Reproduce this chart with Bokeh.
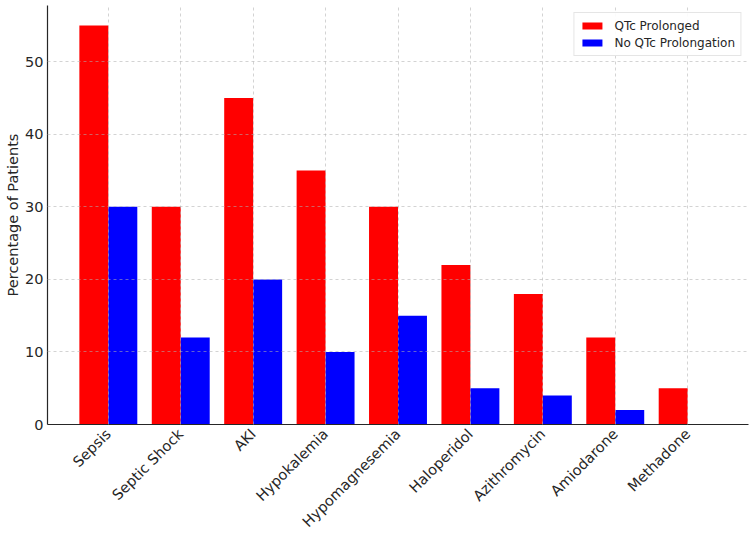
from bokeh.plotting import figure
from bokeh.models import ColumnDataSource, FactorRange, Legend, LegendItem, SingleIntervalTicker
from bokeh.transform import dodge
from bokeh.embed import file_html
from bokeh.resources import INLINE

categories = ["Sepsis", "Septic Shock", "AKI", "Hypokalemia", "Hypomagnesemia",
              "Haloperidol", "Azithromycin", "Amiodarone", "Methadone"]
qtc_prolonged = [55, 30, 45, 35, 30, 22, 18, 12, 5]
no_qtc_prolongation = [30, 12, 20, 10, 15, 5, 4, 2, 0]

src = ColumnDataSource(dict(cat=categories, a=qtc_prolonged, b=no_qtc_prolongation))

FONT = "DejaVu Sans"
TXT = "#262626"

p = figure(width=750, height=539, output_backend="svg", toolbar_location=None,
           x_range=FactorRange(factors=categories, range_padding=0.34,
                               range_padding_units="absolute"),
           y_range=(0, 57.75),
           min_border_left=47, min_border_right=2, min_border_top=5, min_border_bottom=115)

r1 = p.vbar(x=dodge("cat", -0.2, range=p.x_range), top="a", width=0.4, source=src,
            fill_color="#ff0000", line_color=None)
r2 = p.vbar(x=dodge("cat", 0.2, range=p.x_range), top="b", width=0.4, source=src,
            fill_color="#0000ff", line_color=None)

p.outline_line_color = None
p.yaxis.ticker = SingleIntervalTicker(interval=10)
p.yaxis.axis_label = "Percentage of Patients"
p.xaxis.major_label_orientation = 0.785398

for ax in (p.xaxis[0], p.yaxis[0]):
    ax.axis_line_color = TXT
    ax.axis_line_width = 1.2
    ax.major_tick_out = 0
    ax.major_tick_in = 0
    ax.minor_tick_out = 0
    ax.minor_tick_in = 0
    ax.major_label_text_font = FONT
    ax.major_label_text_font_size = "14.5px"
    ax.major_label_text_color = TXT
    ax.axis_label_text_font = FONT
    ax.axis_label_text_font_size = "14.5px"
    ax.axis_label_text_font_style = "normal"
    ax.axis_label_text_color = TXT
    ax.major_label_standoff = 4
    ax.axis_label_standoff = 1

p.xaxis.major_label_standoff = 7

for g in (p.xgrid[0], p.ygrid[0]):
    g.grid_line_color = "#b0b0b0"
    g.grid_line_alpha = 0.7
    g.grid_line_dash = "3 3"
    g.grid_line_width = 0.8
    g.level = "guide"

legend = Legend(items=[LegendItem(label="QTc Prolonged", renderers=[r1]),
                       LegendItem(label="No QTc Prolongation", renderers=[r2])],
                location="top_right", margin=7, padding=5, spacing=2,
                label_height=15, glyph_height=9, glyph_width=25, label_standoff=10,
                label_text_font=FONT, label_text_font_size="12px",
                label_text_color=TXT, border_line_color="#cccccc",
                background_fill_alpha=0.9)
p.add_layout(legend)

open("out.html", "w").write(file_html(p, INLINE))
